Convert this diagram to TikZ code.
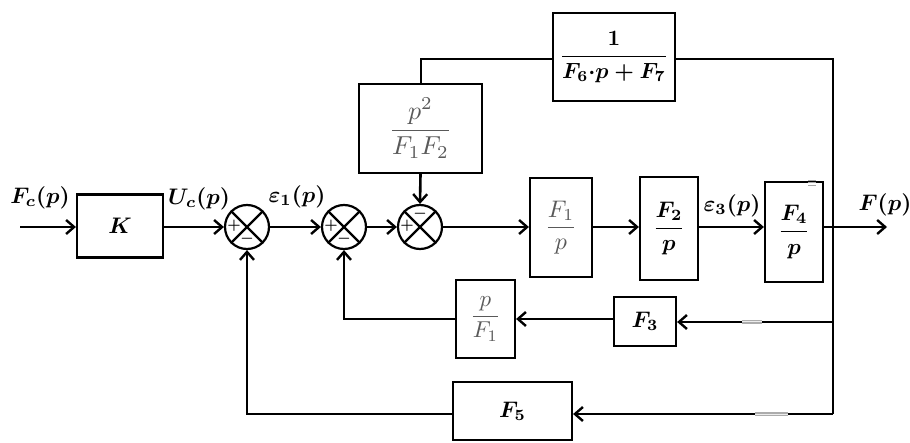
\documentclass[tikz,border=0pt]{standalone}
\usepackage{graphicx}
\usepackage{amsmath}
\usepackage{bm}
\usetikzlibrary{arrows.meta,calc}
\newcommand{\tx}[2][2.25]{\scalebox{#1}{\normalsize$#2$}}
\tikzset{
  blk/.style={draw, line width=2.2pt, inner sep=0pt},
  hand/.style={blk, text=black!65},
  sumj/.style={draw, circle, line width=2.2pt, minimum size=44pt, inner sep=0pt},
  ln/.style={line width=2.6pt},
  thin/.style={line width=2pt},
  arr/.style={ln, -{Straight Barb[length=8pt,width=14pt,line width=2.4pt]}},
  lbl/.style={inner sep=0pt},
  sgn/.style={inner sep=0pt},
  smudge/.style={line width=3.6pt, gray!65},
  smudgein/.style={line width=1pt, white!85!gray},
}
\begin{document}
\begin{tikzpicture}[x=1pt,y=-1pt]
\useasboundingbox (0,0) rectangle (910,443);
% blocks
\node[blk, minimum width=86pt, minimum height=63pt] (k) at (120,226) {\tx{\bm{K}}};
\node[hand, minimum width=123pt, minimum height=89pt] (p2) at (420.5,128.5) {\tx[2.6]{\dfrac{p^{2}}{F_{1}F_{2}}}};
\node[blk, minimum width=122pt, minimum height=88pt] (tf) at (614,57) {\tx[2.2]{\bm{\dfrac{1}{F_6{\cdot}p+F_7}}}};
\node[hand, minimum width=62pt, minimum height=99pt] (f1) at (561,227.5) {\tx[2.4]{\dfrac{F_{1}}{p}}};
\node[blk, minimum width=58pt, minimum height=103pt] (f2) at (669,228.5) {\tx{\bm{\dfrac{F_2}{p}}}};
\node[blk, minimum width=58pt, minimum height=100pt] (f4) at (794,232) {\tx{\bm{\dfrac{F_4}{p}}}};
\node[hand, minimum width=59pt, minimum height=78pt] (pf) at (485.5,319) {\tx[2.3]{\dfrac{p}{F_{1}}}};
\node[blk, minimum width=62pt, minimum height=49pt] (f3) at (645,321.5) {\tx{\bm{F_3}}};
\node[blk, minimum width=119pt, minimum height=58pt] (f5) at (512.5,411) {\tx{\bm{F_5}}};
% summing junctions
\node[sumj] (s1) at (247,227) {};
\node[sumj] (s2) at (344,227) {};
\node[sumj] (s3) at (420,227) {};
\foreach \s in {s1,s2,s3}{
  \draw[line width=2.2pt] (\s.north west) -- (\s.south east) (\s.north east) -- (\s.south west);
}
\node[sgn] at ($(s1)+(-13,-1)$) {\tx[1.5]{\bm{+}}};
\node[sgn] at ($(s1)+(0,12)$) {\tx[1.5]{\bm{-}}};
\node[sgn] at ($(s2)+(-13,-1)$) {\tx[1.5]{\bm{+}}};
\node[sgn] at ($(s2)+(0,12)$) {\tx[1.5]{\bm{-}}};
\node[sgn] at ($(s3)+(-13,-1)$) {\tx[1.5]{\bm{+}}};
\node[sgn] at ($(s3)+(0,-13)$) {\tx[1.5]{\bm{-}}};
% coordinates
\coordinate (in) at (20,227);
\coordinate (out) at (887,227);
\coordinate (br) at (833,227);
\coordinate (tr) at (833,59);
\coordinate (tl) at (420.5,59);
\coordinate (b3) at (833,322);
\coordinate (b5) at (833,414);
% forward path
\draw[arr] (in) -- (in -| k.west);
\draw[arr] (k.east |- s1) -- (s1.west);
\draw[arr] (s1.east) -- (s2.west);
\draw[arr] (s2.east) -- (s3.west);
\draw[arr] (s3.east) -- (s3.east -| f1.west);
\draw[arr] (s3.east -| f1.east) -- (s3.east -| f2.west);
\draw[arr] (s3.east -| f2.east) -- (s3.east -| f4.west);
\draw[arr] (s3.east -| f4.east) -- (out);
% top loop
\draw[thin] (br) -- (tr) -- (tr -| tf.east);
\draw[thin] (tl -| tf.west) -- (tl) -- (p2.north);
\draw[arr] (p2.south) -- (s3.north);
% lower feedbacks
\draw[thin] (br) -- (b5);
\draw[arr] (b3) -- (b3 -| f3.east);
\draw[arr] (f3.west |- pf) -- (pf.east);
\draw[arr] (pf.west) -| (s2.south);
\draw[arr] (b5) -- (b5 -| f5.east);
\draw[arr] (f5.west |- b5) -| (s1.south);
% scan marks
\draw[smudge] (742,322) -- (762,322);
\draw[smudgein] (742,322) -- (762,322);
\draw[smudge] (755,414) -- (788,414);
\draw[smudgein] (755,414) -- (788,414);
\draw[gray!70, line width=0.6pt] (808,180) -- (816,180) (808,182.5) -- (816,182.5) (808,185) -- (816,185);
% labels
\node[lbl] (lfc) at (40,198) {\tx{\bm{F_c(p)}}};
\node[lbl] (luc) at (199,199) {\tx{\bm{U_c(p)}}};
\node[lbl] (le1) at (297,197) {\tx{\bm{\varepsilon_1(p)}}};
\node[lbl] (le3) at (732,206) {\tx{\bm{\varepsilon_3(p)}}};
\node[lbl] (lf) at (885,205) {\tx{\bm{F(p)}}};
\end{tikzpicture}
\end{document}
